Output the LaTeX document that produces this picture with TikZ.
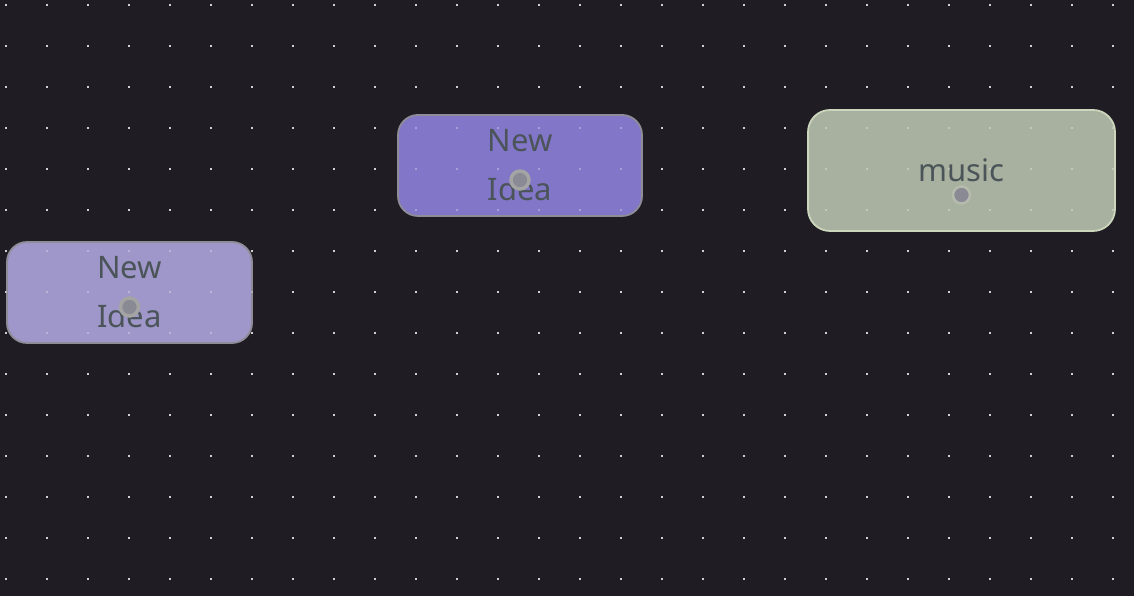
\documentclass[tikz,border=0pt]{standalone}
\usepackage{fontspec}
\setmainfont{Noto Sans}
\usepackage{tikz}
\usetikzlibrary{positioning,backgrounds}

\definecolor{canvas}{HTML}{1F1D23}
\definecolor{griddot}{HTML}{BDBDC2}
\definecolor{ideafill}{HTML}{9F97C9}
\definecolor{ideadark}{HTML}{8276C8}
\definecolor{musicfill}{HTML}{A8B09F}
\definecolor{musicedge}{HTML}{CCD6BC}
\definecolor{cardedge}{HTML}{8E8C96}
\definecolor{cardtext}{HTML}{4B5459}
\definecolor{pinfill}{HTML}{8A8A94}
\definecolor{pinring}{HTML}{A4A4A4}

\begin{document}
\begin{tikzpicture}[x=1pt,y=1pt,
    card/.style={draw=cardedge, line width=1.8pt, rounded corners=20pt,
        text=cardtext, align=center, inner sep=0pt,
        font=\fontsize{31}{49}\selectfont},
    pin/.style={circle, fill=pinfill, draw=pinring, line width=3.5pt, minimum size=18pt, inner sep=0pt}]
        \fill[canvas] (0,0) rectangle (1134,596);
        \useasboundingbox (0,0) rectangle (1134,596);

        % dot grid
        \foreach \i in {0,...,27}
            \foreach \j in {0,...,14}
                \fill[griddot] (6+41*\i-1, 591-41*\j-1) rectangle ++(2,2);

        \node[card, fill=ideafill, minimum width=245pt, minimum height=101pt] (idea1) at (129.5,303.5) {New\\Idea};
        \node[card, fill=ideadark, minimum width=244pt, minimum height=101pt] (idea2) at (520,430.5) {New\\Idea};
        \node[card, fill=musicfill, draw=musicedge, rounded corners=22pt, minimum width=307pt, minimum height=121pt] (music) at (961.5,425.5) {music};

        % grid shows faintly through the cards
        \foreach \i in {0,...,27}
            \foreach \j in {0,...,14}
                \fill[white, opacity=0.3] (6+41*\i-1, 591-41*\j-1) rectangle ++(2,2);

        \node[pin] (idea1-pin) at ([yshift=-14.5pt]idea1.center) {};
        \node[pin] (idea2-pin) at ([yshift=-14.5pt]idea2.center) {};
        \node[pin, draw=musicfill!85!white, line width=2.5pt, minimum size=17pt] (music-pin) at ([yshift=-24.5pt]music.center) {};
    \end{tikzpicture}
\end{document}
